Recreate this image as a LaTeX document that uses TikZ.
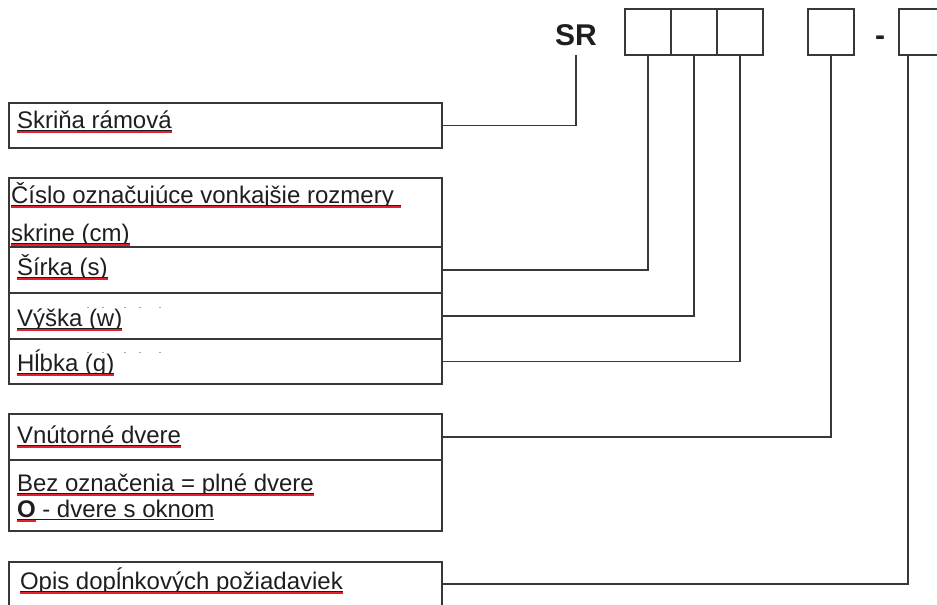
\documentclass[tikz,border=0pt]{standalone}
\usepackage{fontspec}
\setmainfont{Liberation Sans}
\definecolor{lc}{HTML}{383838}
\definecolor{tc}{HTML}{1E1E1E}
\definecolor{rl}{HTML}{E3202B}
\definecolor{dc}{HTML}{A8A8A8}
\newcommand\mkul[1]{%
  \draw[ulblack] ([yshift=-2pt]#1.base west) -- ([yshift=-2pt]#1.base east);
  \draw[ulred] ([yshift=-4.3pt]#1.base west) -- ([yshift=-4.3pt]#1.base east);}
\begin{document}
\begin{tikzpicture}[x=1pt,y=-1pt,
  frame/.style={draw=lc, line width=1.2pt, inner sep=0pt, outer sep=0pt, anchor=north west},
  lbl/.style={inner sep=0pt, outer sep=0pt, anchor=base west, text=tc, font=\fontsize{24}{28}\selectfont},
  big/.style={inner sep=0pt, outer sep=0pt, anchor=base west, text=tc, font=\bfseries\fontsize{30}{30}\selectfont},
  conn/.style={draw=lc, line width=1.2pt},
  ulblack/.style={draw=tc, line width=1pt},
  ulred/.style={draw=rl, line width=1.9pt},
  speck/.style={fill=dc, draw=none, minimum width=2pt, minimum height=1pt, inner sep=0pt}]
\useasboundingbox (0,0) rectangle (937,605);
% top code boxes
\node[big] (sr) at (555,45) {SR};
\node[frame, minimum width=46pt, minimum height=46pt] (b1) at (625,9) {};
\node[frame, minimum width=46pt, minimum height=46pt] (b2) at (671,9) {};
\node[frame, minimum width=46pt, minimum height=46pt] (b3) at (717,9) {};
\node[frame, minimum width=46pt, minimum height=46pt] (b4) at (808,9) {};
\node[big] (dash) at (875,45) {-};
\node[frame, minimum width=50pt, minimum height=46pt] (b5) at (899,9) {};
\coordinate (srtail) at (576,55);
% left boxes
\node[frame, minimum width=433pt, minimum height=45pt] (skrina) at (9,103) {};
\node[frame, minimum width=433pt, minimum height=69pt] (cislo) at (9,178) {};
\node[frame, minimum width=433pt, minimum height=46pt] (sirka) at (9,247) {};
\node[frame, minimum width=433pt, minimum height=46pt] (vyska) at (9,293) {};
\node[frame, minimum width=433pt, minimum height=45pt] (hlbka) at (9,339) {};
\node[frame, minimum width=433pt, minimum height=46pt] (vnut) at (9,414) {};
\node[frame, minimum width=433pt, minimum height=71pt] (bez) at (9,460) {};
\node[frame, minimum width=433pt, minimum height=44pt] (opis) at (9,562) {};
% texts
\node[lbl] (t1) at (17,128) {Skriňa rámová};
\node[lbl] (t2) at (11,203) {Číslo označujúce vonkajšie rozmery\hspace*{0.28em}};
\node[lbl] (t3) at (11,241) {skrine (cm)};
\node[lbl] (t4) at (17,275) {Šírka (s)};
\node[lbl] (t5) at (17,326) {Výška (w)};
\node[lbl] (t6) at (17,371) {Hĺbka (g)};
\node[lbl] (t7) at (17,443) {Vnútorné dvere};
\node[lbl] (t8) at (17,491) {Bez označenia = plné dvere};
\node[lbl] (t9) at (17,517) {\textbf{O} - dvere s oknom};
\node[lbl] (t9o) at (17,517) {\phantom{\textbf{O}}};
\node[lbl] (t10) at (20,589) {Opis dopĺnkových požiadaviek};
\mkul{t1}\mkul{t2}\mkul{t3}\mkul{t4}\mkul{t5}\mkul{t6}\mkul{t7}\mkul{t8}\mkul{t10}
\draw[ulblack] ([yshift=-2pt]t9.base west) -- ([yshift=-2pt]t9.base east);
\draw[ulred] ([yshift=-4.3pt]t9o.base west) -- ([yshift=-4.3pt]t9o.base east);
% faint specks
\foreach \sx in {88,103,125,140,160}{
  \node[speck] (sa\sx) at (\sx,307) {};
  \node[speck] (sb\sx) at (\sx,352) {};}
% connectors
\draw[conn] (srtail) |- (skrina.east);
\draw[conn] (b1.south) |- (sirka.east);
\draw[conn] (b2.south) |- (vyska.east);
\draw[conn] (b3.south) |- (hlbka.east);
\draw[conn] (b4.south) |- (vnut.east);
\draw[conn] ([xshift=9pt]b5.south west) |- (opis.east);
\end{tikzpicture}
\end{document}
